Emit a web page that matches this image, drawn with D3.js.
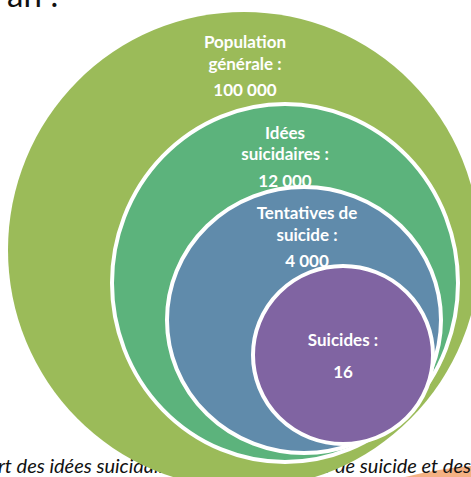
<!DOCTYPE html>
<html><head><meta charset="utf-8">
<script src="https://cdn.jsdelivr.net/npm/d3@7"></script>
<style>html,body{margin:0;padding:0;background:#fff;overflow:hidden} svg{display:block}</style>
</head><body>
<svg id="chart" width="471" height="477"></svg>
<script>
// ---- data ----
const categories = ["Population générale :", "Idées suicidaires :", "Tentatives de suicide :", "Suicides :"];
const labelLines = [["Population", "générale :"], ["Idées", "suicidaires :"], ["Tentatives de", "suicide :"], ["Suicides :"]];
const values = [100000, 12000, 4000, 16];
const colors = ["#9BBB59", "#5CB37C", "#608BAB", "#8064A2"];
const headingText = "an :";
const captionLeft = "rt des idées suicidaires, des";
const captionRight = "tentatives de suicide et des";

// ---- layout (shape geometry, not data) ----
const shapes = [
  {cx: 244, cy: 250, rx: 236, ry: 238},
  {cx: 285, cy: 283, rx: 173, ry: 179},
  {cx: 304, cy: 320, rx: 137, ry: 133},
  {cx: 343, cy: 355, rx: 90, ry: 89}
];
const textPos = [
  {x: 245, y: [48, 70], vy: 96},
  {x: 285, y: [139, 160], vy: 187},
  {x: 307, y: [219, 241], vy: 267},
  {x: 343, y: [346], vy: 378}
];

const fr = d3.formatLocale({decimal: ",", thousands: " ", grouping: [3], currency: ["", " €"]});
const fmt = fr.format(",d");

const svg = d3.select("#chart");

// heading fragment at top (cut by the picture's top edge, as in the reference)
svg.append("text").attr("x", 7).attr("y", 7)
  .attr("font-family", "Lato, sans-serif").attr("font-size", 33).attr("fill", "#111")
  .text(headingText);

// orange shape behind caption
svg.append("path")
  .attr("d", "M405,477 Q436,469 471,466 L471,477 Z")
  .attr("fill", "#F4B183");

// caption text (behind the circles)
const cap = svg.append("g").attr("font-family", "Lato, sans-serif").attr("font-style", "italic")
  .attr("font-size", 20).attr("fill", "#111");
cap.append("text").attr("x", -2).attr("y", 473).text(captionLeft);
cap.append("text").attr("x", 471).attr("y", 473).attr("text-anchor", "end").text(captionRight);

// circles + labels
categories.forEach((c, i) => {
  const s = shapes[i];
  svg.append("ellipse")
    .attr("cx", s.cx).attr("cy", s.cy).attr("rx", s.rx).attr("ry", s.ry)
    .attr("fill", colors[i])
    .attr("stroke", i === 0 ? "none" : "#fff")
    .attr("stroke-width", 4);
  const g = svg.append("g").attr("font-family", "Lato, sans-serif").attr("font-weight", "bold")
    .attr("font-size", 17).attr("fill", "#fff").attr("text-anchor", "middle");
  labelLines[i].forEach((ln, j) => {
    g.append("text").attr("x", textPos[i].x).attr("y", textPos[i].y[j]).text(ln);
  });
  g.append("text").attr("x", textPos[i].x).attr("y", textPos[i].vy).text(fmt(values[i]));
});
</script>
</body></html>
